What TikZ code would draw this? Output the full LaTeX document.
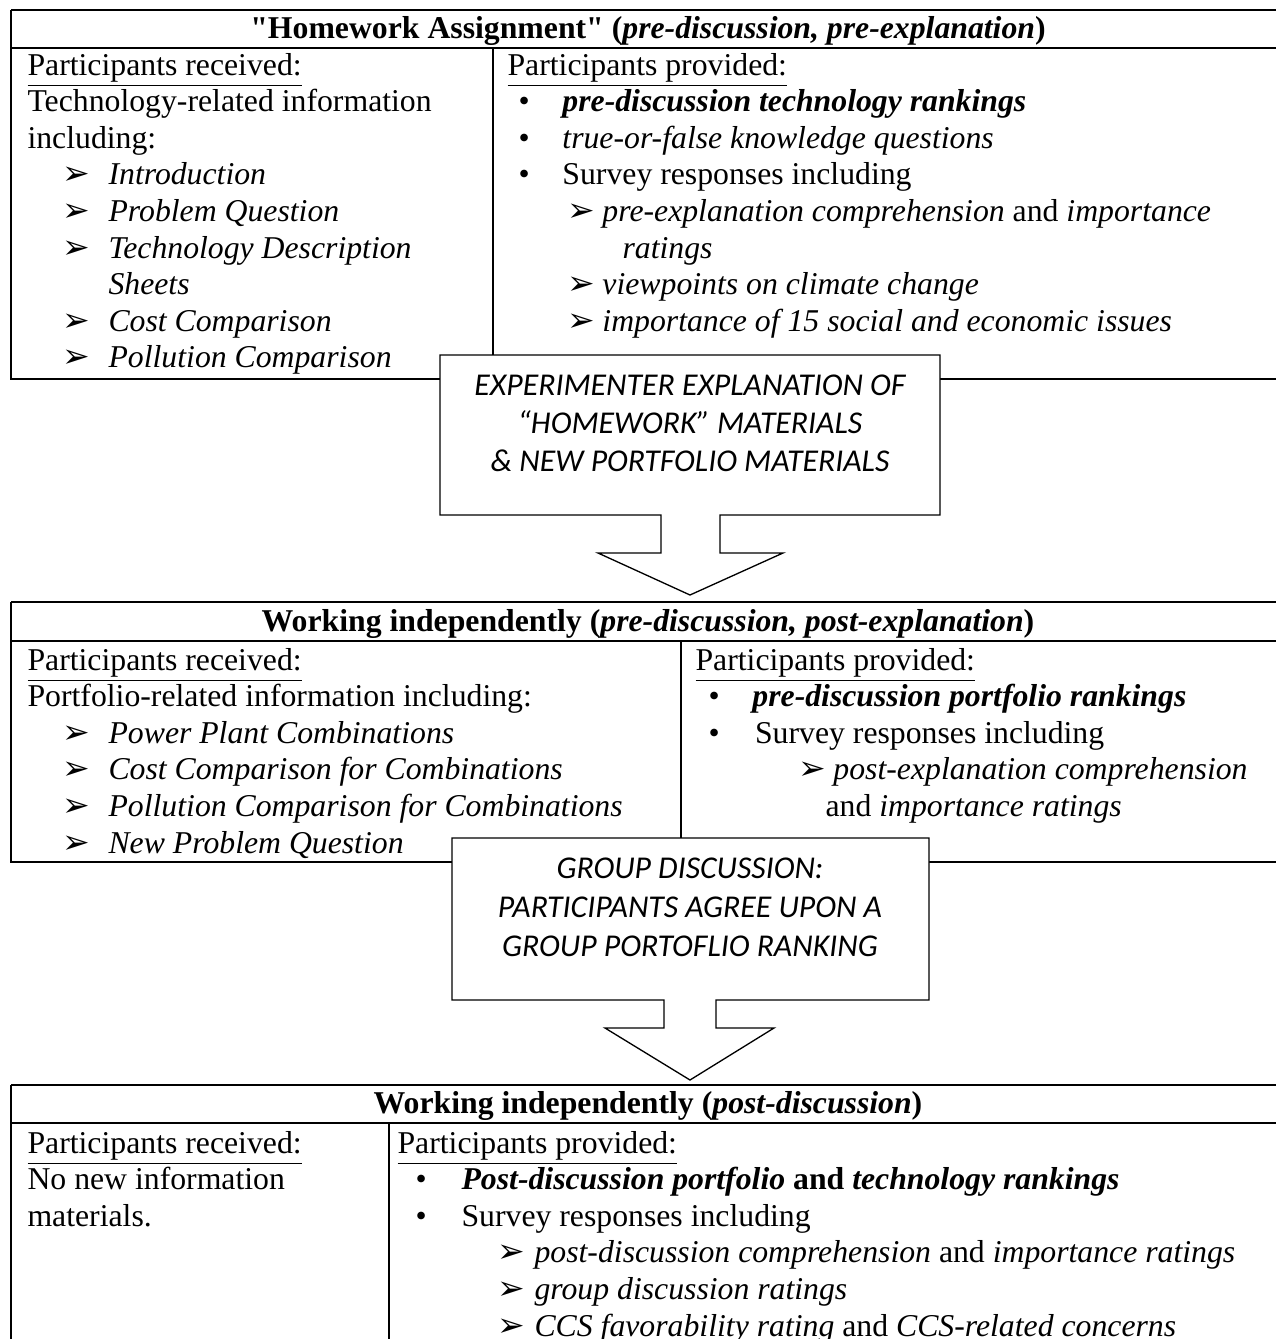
\documentclass[tikz,border=0pt]{standalone}
\usepackage{fontspec}
\setmainfont{Liberation Serif}[Ligatures=TeXOff]
\newfontfamily\calib{Carlito}
\newfontfamily\djv{DejaVu Sans}
\newcommand{\arrowglyph}{{\djv\fontsize{12.5}{13}\selectfont ➢}}
\newcommand{\arrowitem}[2][17.4pt]{\makebox[#1][l]{\arrowglyph}#2}
\newcommand{\bulletitem}[2][16.6pt]{\makebox[#1][l]{•}#2}
\begin{document}
\begin{tikzpicture}[x=0.378pt,y=-0.378pt,
  txt/.style={anchor=base west,inner sep=0pt,font=\fontsize{12}{13.8}\selectfont},
  ttl/.style={anchor=base,inner sep=0pt,font=\fontsize{12}{13.8}\selectfont\bfseries},
  calltxt/.style={anchor=base,inner sep=0pt,font=\fontsize{12}{14.4}\selectfont\calib\itshape},
  rule/.style={line width=0.8pt},
  callshape/.style={draw,fill=white,line width=0.5pt,line join=miter}]
\useasboundingbox (0,0) rectangle (1276,1339);
\clip (0,0) rectangle (1276,1339);

% ---------- Table 1 ----------
\draw[rule] (11,10) -- (1290,10);
\draw[rule] (11,48) -- (1290,48);
\draw[rule] (11,10) -- (11,379) -- (440,379);
\draw[rule] (940,379) -- (1290,379);
\draw[rule] (493,48) -- (493,379);
\node[ttl] (t1title) at (648,38) {"Homework Assignment" (\textit{pre-discussion, pre-explanation})};
\node[txt] (t1l0) at (27,75) {\underline{Participants received:}};
\node[txt] (t1l1) at (27,111.6) {Technology-related information};
\node[txt] (t1l2) at (27,148.2) {including:};
\node[txt] (t1l3) at (62,184.8) {\arrowitem{\textit{Introduction}}};
\node[txt] (t1l4) at (62,221.4) {\arrowitem{\textit{Problem Question}}};
\node[txt] (t1l5) at (62,258) {\arrowitem{\textit{Technology Description}}};
\node[txt] (t1l6) at (108,294.6) {\textit{Sheets}};
\node[txt] (t1l7) at (62,331.2) {\arrowitem{\textit{Cost Comparison}}};
\node[txt] (t1l8) at (62,367.8) {\arrowitem{\textit{Pollution Comparison}}};
\node[txt] (t1r0) at (507,75) {\underline{Participants provided:}};
\node[txt] (t1r1) at (518,111.6) {\bulletitem{\textbf{\textit{pre-discussion technology rankings}}}};
\node[txt] (t1r2) at (518,148.2) {\bulletitem{\textit{true-or-false knowledge questions}}};
\node[txt] (t1r3) at (518,184.8) {\bulletitem{Survey responses including}};
\node[txt] (t1r4) at (567,221.4) {\arrowitem[13.2pt]{\textit{pre-explanation comprehension} and \textit{importance}}};
\node[txt] (t1r5) at (622,258) {\textit{ratings}};
\node[txt] (t1r6) at (567,294.6) {\arrowitem[13.2pt]{\textit{viewpoints on climate change}}};
\node[txt] (t1r7) at (567,331.2) {\arrowitem[13.2pt]{\textit{importance of 15 social and economic issues}}};

% ---------- Callout 1 ----------
\draw[callshape] (440,355) -- (940,355) -- (940,515) -- (720,515) -- (720,553) -- (783,553)
  -- (690,595) -- (598,553) -- (661,553) -- (661,515) -- (440,515) -- cycle;
\node[calltxt] (c1a) at (690,395) {EXPERIMENTER EXPLANATION OF};
\node[calltxt] (c1b) at (690,433) {“HOMEWORK” MATERIALS};
\node[calltxt] (c1c) at (690,471) {\& NEW PORTFOLIO MATERIALS};

% ---------- Table 2 ----------
\draw[rule] (11,602) -- (1290,602);
\draw[rule] (11,641) -- (1290,641);
\draw[rule] (11,602) -- (11,862) -- (452,862);
\draw[rule] (929,862) -- (1290,862);
\draw[rule] (681,641) -- (681,862);
\node[ttl] (t2title) at (648,631) {Working independently (\textit{pre-discussion, post-explanation})};
\node[txt] (t2l0) at (27,670) {\underline{Participants received:}};
\node[txt] (t2l1) at (27,706.6) {Portfolio-related information including:};
\node[txt] (t2l2) at (62,743.2) {\arrowitem{\textit{Power Plant Combinations}}};
\node[txt] (t2l3) at (62,779.8) {\arrowitem{\textit{Cost Comparison for Combinations}}};
\node[txt] (t2l4) at (62,816.4) {\arrowitem{\textit{Pollution Comparison for Combinations}}};
\node[txt] (t2l5) at (62,853) {\arrowitem{\textit{New Problem Question}}};
\node[txt] (t2r0) at (695,670) {\underline{Participants provided:}};
\node[txt] (t2r1) at (708,706.6) {\bulletitem{\textbf{\textit{pre-discussion portfolio rankings}}}};
\node[txt] (t2r2) at (708,743.2) {\bulletitem[17.6pt]{Survey responses including}};
\node[txt] (t2r3) at (798,779.8) {\arrowitem[13.2pt]{\textit{post-explanation comprehension}}};
\node[txt] (t2r4) at (825,816.4) {and \textit{importance ratings}};

% ---------- Callout 2 ----------
\draw[callshape] (452,838) -- (929,838) -- (929,1000) -- (716,1000) -- (716,1028) -- (774,1028)
  -- (690,1080) -- (605,1028) -- (664,1028) -- (664,1000) -- (452,1000) -- cycle;
\node[calltxt] (c2a) at (690,878) {GROUP DISCUSSION:};
\node[calltxt] (c2b) at (690,917) {PARTICIPANTS AGREE UPON A};
\node[calltxt] (c2c) at (690,956) {GROUP PORTOFLIO RANKING};

% ---------- Table 3 ----------
\draw[rule] (11,1085) -- (1290,1085);
\draw[rule] (11,1123) -- (1290,1123);
\draw[rule] (11,1085) -- (11,1345);
\draw[rule] (389,1123) -- (389,1345);
\node[ttl] (t3title) at (648,1113) {Working independently (\textit{post-discussion})};
\node[txt] (t3l0) at (27,1153) {\underline{Participants received:}};
\node[txt] (t3l1) at (27,1189.6) {No new information};
\node[txt] (t3l2) at (27,1226.2) {materials.};
\node[txt] (t3r0) at (397,1153) {\underline{Participants provided:}};
\node[txt] (t3r1) at (415,1189.6) {\bulletitem[17.4pt]{\textbf{\textit{Post-discussion portfolio} and \textit{technology rankings}}}};
\node[txt] (t3r2) at (415,1226.2) {\bulletitem[17.4pt]{Survey responses including}};
\node[txt] (t3r3) at (497,1262.8) {\arrowitem[14pt]{\textit{post-discussion comprehension} and \textit{importance ratings}}};
\node[txt] (t3r4) at (497,1299.4) {\arrowitem[14pt]{\textit{group discussion ratings}}};
\node[txt] (t3r5) at (497,1336) {\arrowitem[14pt]{\textit{CCS favorability rating} and \textit{CCS-related concerns}}};
\end{tikzpicture}
\end{document}
